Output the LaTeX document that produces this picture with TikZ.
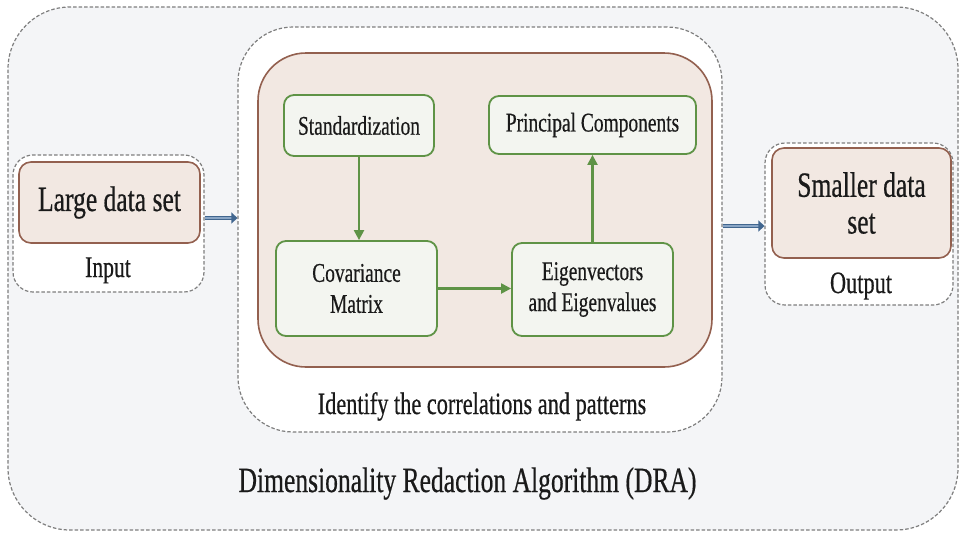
\documentclass[tikz,border=0pt]{standalone}
\usepackage{fontspec}
\setmainfont{Liberation Serif}[UprightFeatures={FakeBold=0.6}]
\usetikzlibrary{arrows.meta}

% condensed serif lettering, one line per call
\newcommand{\cond}[1]{\scalebox{0.72}[1]{#1}}

\definecolor{bgfill}{HTML}{F4F5F7}
\definecolor{dashgray}{HTML}{7E7E7E}
\definecolor{brownline}{HTML}{93604F}
\definecolor{brownfill}{HTML}{F2E8E2}
\definecolor{greenline}{HTML}{5F9346}
\definecolor{greenfill}{HTML}{F3F5F0}
\definecolor{arrowdark}{HTML}{41668F}
\definecolor{arrowlight}{HTML}{8AA6C6}
\definecolor{inktext}{HTML}{1A1A1A}

\tikzset{
  container/.style={draw=dashgray, dash pattern=on 3.5pt off 2pt,
    line width=1.2pt, rectangle, inner sep=0pt},
  databox/.style={draw=brownline, fill=brownfill, line width=1.6pt,
    rectangle, rounded corners=12pt, inner sep=0pt, text=inktext,
    align=center},
  stepbox/.style={draw=greenline, fill=greenfill, line width=1.8pt,
    rectangle, rounded corners=10pt, inner sep=0pt, text=inktext,
    align=center, font=\fontsize{27}{31}\selectfont},
  flow/.style={draw=greenline, line width=2.2pt,
    -{Triangle[length=10pt,width=10pt]}},
  blockarrow/.style={draw=arrowdark, double=arrowlight, double distance=1.8pt,
    line width=1.5pt, -{Triangle[length=6pt,width=11pt]}},
  caption/.style={text=inktext, inner sep=0pt, anchor=base}
}

\begin{document}
\begin{tikzpicture}[x=1pt, y=-1pt]
\useasboundingbox (0,0) rectangle (960,533);

% outer frame of the whole algorithm
\node[container, fill=bgfill, rounded corners=62pt,
      minimum width=950pt, minimum height=523pt] (dra) at (483,268.5) {};

% central stage
\node[container, fill=white, rounded corners=55pt,
      minimum width=484pt, minimum height=405pt] (mid) at (480,229.5) {};
\node[draw=brownline, fill=brownfill, line width=1.6pt, rectangle,
      rounded corners=48pt, inner sep=0pt,
      minimum width=454pt, minimum height=314pt] (core) at (485,210) {};

% input side
\node[container, fill=white, rounded corners=20pt,
      minimum width=191pt, minimum height=137pt] (inbox) at (108.5,223.5) {};
\node[databox, minimum width=181pt, minimum height=81pt,
      font=\fontsize{35.5}{37}\selectfont] (large) at (109.5,202.5) {\cond{Large data set}};
\node[caption, font=\fontsize{30}{32}\selectfont] (inlabel) at (108,277) {\cond{Input}};

% output side
\node[container, fill=white, rounded corners=20pt,
      minimum width=188pt, minimum height=162pt] (outbox) at (859,224) {};
\node[databox, minimum width=179pt, minimum height=110pt,
      font=\fontsize{35.5}{36.7}\selectfont] (small) at (861.5,203) {\cond{Smaller data}\\\cond{set}};
\node[caption, font=\fontsize{31}{33}\selectfont] (outlabel) at (861,293) {\cond{Output}};

% PCA steps
\node[stepbox, minimum width=150pt, minimum height=61pt] (std) at (359,125.5) {\cond{Standardization}};
\node[stepbox, minimum width=207pt, minimum height=58pt] (pc) at (592.5,125) {\cond{Principal Components}};
\node[stepbox, minimum width=161pt, minimum height=95pt] (cov) at (356.5,288.5) {\cond{Covariance}\\\cond{Matrix}};
\node[stepbox, minimum width=161pt, minimum height=93pt] (eig) at (592.5,289.5) {\cond{Eigenvectors}\\\cond{and Eigenvalues}};

\draw[flow] (std.south) -- (std.south |- cov.north);
\draw[flow] (cov.east) -- (cov.east -| eig.west);
\draw[flow] (eig.north) -- (pc.south);

% captions
\node[caption, font=\fontsize{31}{33}\selectfont] (idlabel) at (482,414)
  {\cond{Identify the correlations and patterns}};
\node[caption, font=\fontsize{35.5}{37}\selectfont] (dralabel) at (467.5,492)
  {\cond{Dimensionality Redaction Algorithm (DRA)}};

% data flow between the stages
\draw[blockarrow] ([yshift=5.5pt]inbox.east) -- ([yshift=5.5pt]inbox.east -| mid.west);
\draw[blockarrow] ([yshift=-2pt]outbox.west -| mid.east) -- ([yshift=-2pt]outbox.west);
\end{tikzpicture}
\end{document}
